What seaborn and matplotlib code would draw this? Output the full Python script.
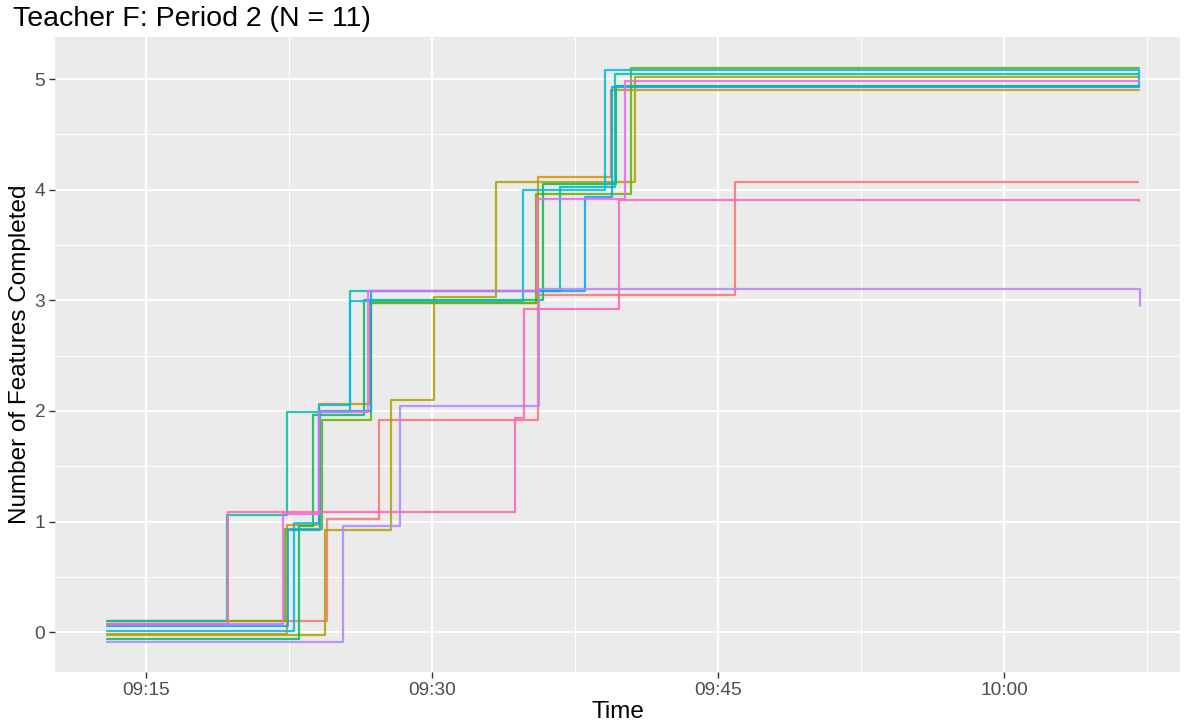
import matplotlib
matplotlib.use("Agg")
import matplotlib.pyplot as plt
import matplotlib.dates as mdates
from matplotlib.ticker import FixedLocator, MultipleLocator
import pandas as pd
import seaborn as sns

# ---------------- data (jitter included) ----------------
students = ["S01", "S02", "S03", "S04", "S05", "S06", "S07", "S08", "S09", "S10", "S11"]
palette = ["#F8766D", "#DB8E00", "#AEA200", "#64B200", "#00BD5C", "#00C1A7",
           "#00BADE", "#00A6FF", "#B385FF", "#EF67EB", "#FF63B6"]

s01_time = ["09:12:57", "09:24:29", "09:27:13", "09:35:34", "09:45:53", "10:07:02"]
s01_done = [0.10, 1.02, 1.92, 3.05, 4.07, 4.07]

s02_time = ["09:12:57", "09:22:25", "09:24:05", "09:26:45", "09:35:34", "09:39:25", "10:07:05"]
s02_done = [-0.015, 0.97, 2.06, 2.98, 4.11, 4.90, 4.90]

s03_time = ["09:12:57", "09:24:25", "09:27:51", "09:30:06", "09:33:23", "09:40:39", "10:07:05"]
s03_done = [-0.025, 0.92, 2.10, 3.03, 4.07, 5.02, 5.02]

s04_time = ["09:12:57", "09:22:17", "09:24:13", "09:26:47", "09:35:29", "09:40:28", "10:07:05"]
s04_done = [0.10, 0.93, 1.92, 2.98, 3.96, 5.10, 5.10]

s05_time = ["09:12:57", "09:23:02", "09:23:46", "09:26:27", "09:35:49", "09:39:39", "10:07:05"]
s05_done = [-0.06, 0.96, 1.96, 3.00, 4.05, 4.94, 4.94]

s06_time = ["09:12:57", "09:19:14", "09:22:23", "09:25:42", "09:36:43", "09:39:36", "10:07:05"]
s06_done = [0.10, 1.06, 1.99, 3.08, 4.02, 5.05, 5.05]

s07_time = ["09:12:57", "09:22:46", "09:24:05", "09:25:42", "09:34:47", "09:39:04", "10:07:05"]
s07_done = [0.01, 0.99, 2.05, 2.99, 4.00, 5.08, 4.93]

s08_time = ["09:12:57", "09:22:28", "09:24:09", "09:26:47", "09:38:01", "09:39:28", "10:07:05"]
s08_done = [0.06, 0.92, 2.00, 3.08, 3.93, 4.93, 4.93]

s09_time = ["09:12:57", "09:25:21", "09:28:19", "09:35:38", "10:07:08"]
s09_done = [-0.09, 0.96, 2.04, 3.10, 2.95]

s10_time = ["09:12:57", "09:22:10", "09:24:05", "09:26:40", "09:35:31", "09:40:07", "10:07:05"]
s10_done = [0.07, 1.07, 1.99, 3.08, 3.92, 4.98, 4.98]

s11_time = ["09:12:57", "09:19:19", "09:34:21", "09:34:50", "09:39:49", "10:07:05"]
s11_done = [0.07, 1.09, 1.94, 2.92, 3.91, 3.90]

x_ticks = ["09:15", "09:30", "09:45", "10:00"]
x_minor = ["09:22:30", "09:37:30", "09:52:30", "10:07:30"]
y_ticks = [0, 1, 2, 3, 4, 5]
x_limits = ["09:10:14", "10:09:14"]
y_limits = [-0.36, 5.38]

title = "Teacher F: Period 2 (N = 11)"
x_label = "Time"
y_label = "Number of Features Completed"

# ---------------- build long table ----------------
times = [s01_time, s02_time, s03_time, s04_time, s05_time, s06_time,
         s07_time, s08_time, s09_time, s10_time, s11_time]
dones = [s01_done, s02_done, s03_done, s04_done, s05_done, s06_done,
         s07_done, s08_done, s09_done, s10_done, s11_done]
day = "2019-03-05 "
frames = []
for sid, tt, dd in zip(students, times, dones):
    frames.append(pd.DataFrame({"student": sid,
                                "time": pd.to_datetime([day + t for t in tt]),
                                "done": dd}))
df = pd.concat(frames, ignore_index=True)

# ---------------- style ----------------
sns.set_theme(style="darkgrid")
plt.rcParams["font.family"] = ["Liberation Sans", "DejaVu Sans"]

W, H = 1190, 725
fig = plt.figure(figsize=(W / 100, H / 100), dpi=100)
fig.patch.set_facecolor("white")
ax = fig.add_axes([55 / W, 1 - 672 / H, (1180 - 55) / W, (672 - 37) / H])
ax.set_facecolor("#EBEBEB")
for s in ax.spines.values():
    s.set_visible(False)

sns.lineplot(data=df, x="time", y="done", hue="student", hue_order=students,
             palette=palette, estimator=None, drawstyle="steps-post",
             linewidth=1.6, alpha=0.85, legend=False, ax=ax)

# axes scales
ax.set_xlim(pd.Timestamp(day + x_limits[0]), pd.Timestamp(day + x_limits[1]))
ax.set_ylim(*y_limits)
ax.xaxis.set_major_locator(FixedLocator(mdates.date2num(pd.to_datetime([day + t for t in x_ticks]))))
ax.xaxis.set_major_formatter(mdates.DateFormatter("%H:%M"))
ax.xaxis.set_minor_locator(FixedLocator(mdates.date2num(pd.to_datetime([day + t for t in x_minor]))))
ax.yaxis.set_major_locator(FixedLocator(y_ticks))
ax.yaxis.set_minor_locator(MultipleLocator(0.5))

ax.grid(which="major", color="white", linewidth=1.4)
ax.grid(which="minor", color="white", linewidth=0.7)
ax.set_axisbelow(True)

ax.tick_params(which="major", length=4, width=1, color="#333333",
               labelsize=13.8, labelcolor="#4D4D4D", pad=3,
               bottom=True, left=True)
ax.tick_params(which="minor", length=0)

ax.set_xlabel(x_label, fontsize=17.5, color="black")
ax.set_ylabel(y_label, fontsize=17.5, color="black")
ax.xaxis.set_label_coords(0.5, (672 - 712) / 635)
ax.xaxis.label.set_va("center")
ax.yaxis.set_label_coords((20 - 55) / 1125, 0.5)
ax.yaxis.label.set_va("center")
fig.text(13 / W, 1 - 19 / H, title, fontsize=20.5, color="black",
         ha="left", va="center")

fig.savefig("out.png", dpi=100)
